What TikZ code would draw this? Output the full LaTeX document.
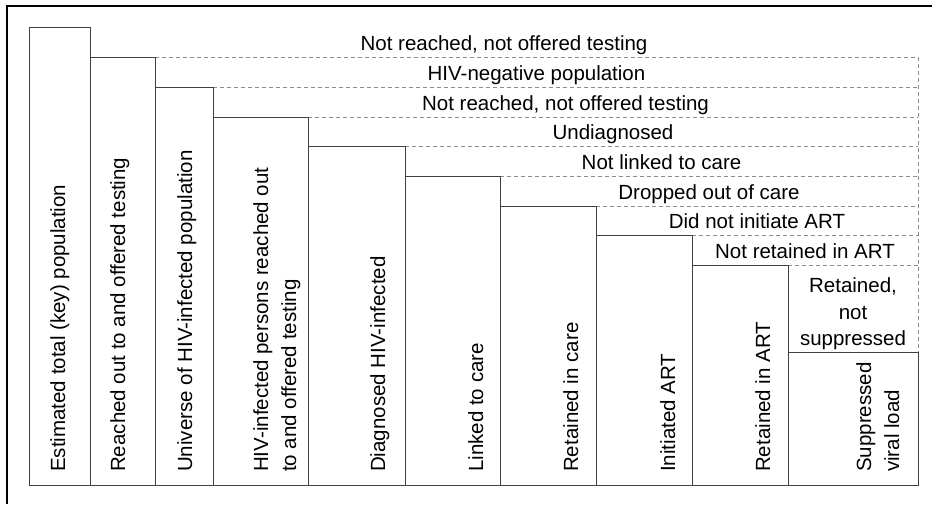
\documentclass[tikz,border=0pt]{standalone}
\usepackage{fontspec}
\setmainfont{Liberation Sans}

\begin{document}
\begin{tikzpicture}[
  x=1pt, y=-1pt,
  stage/.style={draw=black!75, line width=0.9pt},
  gap/.style={draw=black!45, line width=0.9pt, dash pattern=on 4pt off 3pt},
  band/.style={anchor=base, inner sep=0pt, font=\fontsize{20.5}{26.5}\selectfont},
  vlabel/.style={rotate=90, anchor=base west, inner sep=0pt, align=left,
    font=\fontsize{20.5}{28}\selectfont}
]

\useasboundingbox (0,0) rectangle (932,504);

\draw [line width=1.4pt] (7,504) -- (7,6) -- (932,6);

\draw [gap] (155,57) -- (918,57) -- (918,352);
\draw [gap] (213,87) -- (918,87);
\draw [gap] (308,117) -- (918,117);
\draw [gap] (405,146) -- (918,146);
\draw [gap] (500,176) -- (918,176);
\draw [gap] (596,206) -- (918,206);
\draw [gap] (692,235) -- (918,235);
\draw [gap] (788,265) -- (918,265);

\draw [stage] (29,27) rectangle (90,485);
\draw [stage] (90,57) rectangle (155,485);
\draw [stage] (155,87) rectangle (213,485);
\draw [stage] (213,117) rectangle (308,485);
\draw [stage] (308,146) rectangle (405,485);
\draw [stage] (405,176) rectangle (500,485);
\draw [stage] (500,206) rectangle (596,485);
\draw [stage] (596,235) rectangle (692,485);
\draw [stage] (692,265) rectangle (788,485);
\draw [stage] (788,352) rectangle (918,485);

\node [vlabel] (est) at (65,472) {Estimated total (key) population};
\node [vlabel] (reach) at (125,472) {Reached out to and offered testing};
\node [vlabel] (univ) at (192,472) {Universe of HIV-infected population};
\node [vlabel] (hivreach) at (296,472) {HIV-infected persons reached out\\to and offered testing};
\node [vlabel] (diag) at (385,472) {Diagnosed HIV-infected};
\node [vlabel] (linked) at (483,472) {Linked to care};
\node [vlabel] (retcare) at (578,472) {Retained in care};
\node [vlabel] (initart) at (675,472) {Initiated ART};
\node [vlabel] (retart) at (770,472) {Retained in ART};
\node [vlabel] (supp) at (899,472) {Suppressed\\viral load};

\node [band] (notreach) at (504,50) {Not reached, not offered testing};
\node [band] (hivneg) at (536.5,80) {HIV-negative population};
\node [band] (notoffer) at (565.5,110) {Not reached, not offered testing};
\node [band] (undiag) at (613,139.5) {Undiagnosed};
\node [band] (notlinked) at (661.5,169) {Not linked to care};
\node [band] (dropped) at (709,199) {Dropped out of care};
\node [band] (noinit) at (757,228.5) {Did not initiate ART};
\node [band] (notret) at (805,258) {Not retained in ART};
\node [band, anchor=center, align=center] (notsupp) at (853,314) {Retained,\\not\\suppressed};

\end{tikzpicture}
\end{document}
